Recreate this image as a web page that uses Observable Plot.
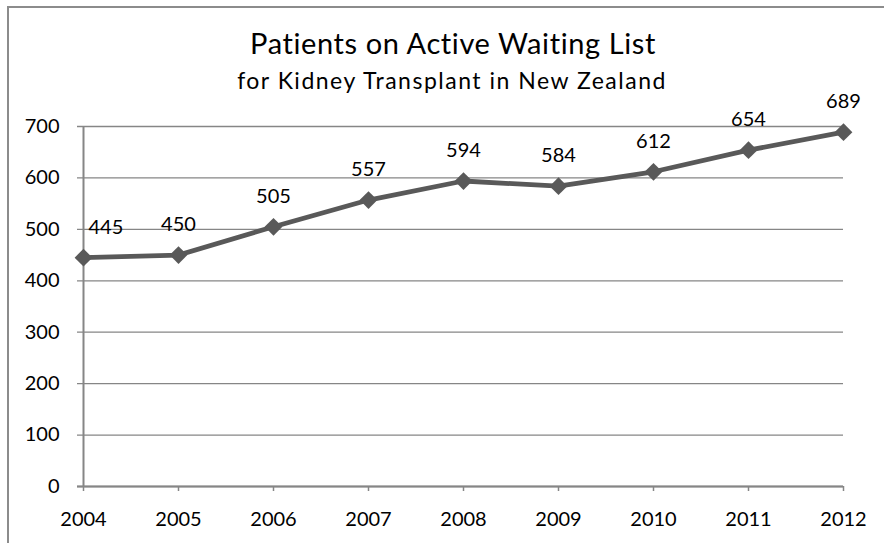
<!DOCTYPE html>
<html>
<head>
<meta charset="utf-8">
<script src="https://cdn.jsdelivr.net/npm/d3@7"></script>
<script src="https://cdn.jsdelivr.net/npm/@observablehq/plot@0.6"></script>
<style>
  html, body { margin: 0; padding: 0; background: #fff; }
  #wrap { position: relative; width: 884px; height: 543px; overflow: hidden; font-family: Lato, "Open Sans", sans-serif; }
  #frame { position: absolute; left: 7px; top: 6px; width: 900px; height: 600px; border-left: 2px solid #8c8c8c; border-top: 2px solid #8c8c8c; box-sizing: border-box; }
  #title { position: absolute; left: 453px; top: 28px; transform: translateX(-50%); white-space: nowrap; font-size: 29px; letter-spacing: 0.6px; color: #000; line-height: 1; }
  #subtitle { position: absolute; left: 452px; top: 69px; transform: translateX(-50%); white-space: nowrap; font-size: 23px; letter-spacing: 1.5px; color: #000; line-height: 1; }
  #chart { position: absolute; left: 0; top: 0; }
</style>
</head>
<body>
<div id="wrap">
  <div id="frame"></div>
  <div id="chart"></div>
  <div id="title">Patients on Active Waiting List</div>
  <div id="subtitle">for Kidney Transplant in New Zealand</div>
</div>
<script>
const years = ["2004", "2005", "2006", "2007", "2008", "2009", "2010", "2011", "2012"];
const patients = [445, 450, 505, 557, 594, 584, 612, 654, 689];
const yTicks = [0, 100, 200, 300, 400, 500, 600, 700];

const data = years.map((y, i) => ({year: y, value: patients[i]}));
const lineColor = "#595959";
const gridColor = "#868686";
const first = years[0], last = years[years.length - 1];

const chart = Plot.plot({
  width: 884,
  height: 543,
  marginTop: 126,
  marginBottom: 57,
  marginLeft: 80,
  marginRight: 38,
  style: {fontFamily: "Lato, 'Open Sans', sans-serif", fontSize: "20px", color: "#000", background: "transparent"},
  x: {type: "point", domain: years, padding: 0, label: null},
  y: {domain: [0, 700], label: null},
  marks: [
    Plot.ruleY(yTicks, {x1: () => first, x2: () => last, stroke: gridColor, strokeWidth: 1.3, insetLeft: -6}),
    Plot.ruleX([first], {y1: 0, y2: 700, stroke: gridColor, strokeWidth: 2}),
    Plot.axisY(yTicks, {tickSize: 0, tickPadding: 21, fill: "#000", fontSize: 20, label: null}),
    Plot.axisX(years, {tickSize: 5, tickPadding: 20, stroke: gridColor, strokeWidth: 1.5, fill: "#000", fontSize: 20, label: null}),
    Plot.ruleY([0], {x1: () => first, x2: () => last, stroke: gridColor, strokeWidth: 2, insetLeft: -6}),
    Plot.line(data, {x: "year", y: "value", stroke: lineColor, strokeWidth: 4.8}),
    Plot.dot(data, {x: "year", y: "value", symbol: "diamond2", r: 8, fill: lineColor, stroke: "none"}),
    Plot.text(data.slice(0, 1), {x: "year", y: "value", text: d => String(d.value), textAnchor: "start", lineAnchor: "bottom", dx: 5, dy: -24, fill: "#000", fontSize: 20}),
    Plot.text(data.slice(1), {x: "year", y: "value", text: d => String(d.value), lineAnchor: "bottom", dy: -24, fill: "#000", fontSize: 20})
  ]
});
document.getElementById("chart").appendChild(chart);
</script>
</body>
</html>
